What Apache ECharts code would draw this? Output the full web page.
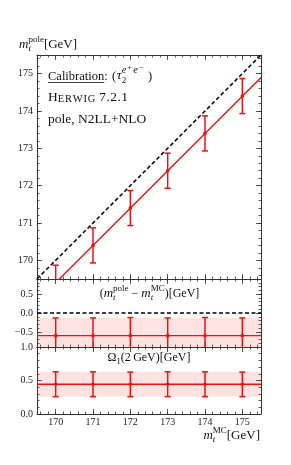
<!DOCTYPE html>
<html><head><meta charset="utf-8">
<script src="https://cdn.jsdelivr.net/npm/echarts@6/dist/echarts.min.js"></script>
<style>html,body{margin:0;padding:0;background:#fff}#c{width:291px;height:465px}</style>
</head><body><div id="c"></div>
<script>
// ---- data ----
const mcMass   = [170, 171, 172, 173, 174, 175];
const poleMass = [169.4, 170.4, 171.4, 172.4, 173.4, 174.4];
const poleErr  = [0.47, 0.47, 0.47, 0.47, 0.47, 0.47];
const diffVal  = [-0.6, -0.6, -0.6, -0.6, -0.6, -0.6];
const diffErr  = [0.47, 0.47, 0.48, 0.47, 0.48, 0.47];
const omegaVal = [0.445, 0.445, 0.443, 0.445, 0.445, 0.443];
const omegaErr = [0.185, 0.185, 0.183, 0.185, 0.185, 0.183];
const xRange    = [169.5, 175.5];
const fitPole   = [168.9, 174.9];
const diffFit   = -0.6;
const diffBand  = [-1.07, -0.13];
const omegaFit  = 0.445;
const omegaBand = [0.26, 0.63];
const xTicks     = [170, 171, 172, 173, 174, 175];
const poleTicks  = [170, 171, 172, 173, 174, 175];
const diffTicks  = [-0.5, 0, 0.5];
const omegaTicks = [0, 0.5, 1.0];
const poleRange  = [169.5, 175.5];
const diffRange  = [-0.9, 0.9];
const omegaRange = [0, 1];

const RED = '#f01010';
const FONT = '"Liberation Serif", "DejaVu Serif", serif';
const AX = '#333';

function minors(lo, hi, step) {
  const out = [];
  for (let k = Math.ceil(lo / step - 1e-9); k * step <= hi + 1e-9; k++) out.push(+(k * step).toFixed(4));
  return out;
}
const fmt = v => (v < 0 ? '\u2212' + Math.abs(v).toFixed(1) : (+v).toFixed(1));

const grids = [
  {left: 37, width: 224, top: 55, height: 224},
  {left: 37, width: 224, top: 279, height: 68},
  {left: 37, width: 224, top: 347, height: 67}
];
const yInfo = [
  {range: poleRange, ticks: poleTicks, step: 0.2, f: v => String(v)},
  {range: diffRange, ticks: diffTicks, step: 0.1, f: fmt},
  {range: omegaRange, ticks: omegaTicks, step: 0.1, f: fmt}
];
const xAxes = [], yAxes = [];
const xMajorIdx = [], yMajorIdx = [];
function axis(gi, pos, range, vals, len, line, label, f) {
  return {
    type: 'value', gridIndex: gi, position: pos, min: range[0], max: range[1],
    axisLine: {show: line, onZero: false, lineStyle: {color: AX, width: 1}},
    axisTick: {show: true, inside: true, length: len, customValues: vals, lineStyle: {color: AX, width: 0.8}},
    axisLabel: {show: label, customValues: vals, margin: pos === 'bottom' ? 3 : 4,
      fontFamily: FONT, fontSize: 10, color: '#222', formatter: f || (v => String(v))},
    splitLine: {show: false}, minorTick: {show: false}
  };
}
grids.forEach((g, gi) => {
  xMajorIdx.push(xAxes.length);
  xAxes.push(axis(gi, 'bottom', xRange, xTicks, 5, true, gi === 2, v => String(v)));
  xAxes.push(axis(gi, 'bottom', xRange, minors(xRange[0], xRange[1], 0.2), 2.5, false, false));
  xAxes.push(axis(gi, 'top', xRange, xTicks, 5, true, false));
  xAxes.push(axis(gi, 'top', xRange, minors(xRange[0], xRange[1], 0.2), 2.5, false, false));
  const yi = yInfo[gi];
  yMajorIdx.push(yAxes.length);
  yAxes.push(axis(gi, 'left', yi.range, yi.ticks, 5, true, true, yi.f));
  yAxes.push(axis(gi, 'left', yi.range, minors(yi.range[0], yi.range[1], yi.step), 2.5, false, false));
  yAxes.push(axis(gi, 'right', yi.range, yi.ticks, 5, true, false));
  yAxes.push(axis(gi, 'right', yi.range, minors(yi.range[0], yi.range[1], yi.step), 2.5, false, false));
});

function errRender(params, api) {
  const x = api.value(0), y = api.value(1), e = api.value(2);
  const c = api.coord([x, y]), t = api.coord([x, y + e]), b = api.coord([x, y - e]);
  const cap = 3, st = {stroke: RED, lineWidth: 1.5};
  return {type: 'group', children: [
    {type: 'line', shape: {x1: c[0], y1: t[1], x2: c[0], y2: b[1]}, style: st},
    {type: 'line', shape: {x1: c[0] - cap, y1: t[1], x2: c[0] + cap, y2: t[1]}, style: st},
    {type: 'line', shape: {x1: c[0] - cap, y1: b[1], x2: c[0] + cap, y2: b[1]}, style: st},
    {type: 'circle', shape: {cx: c[0], cy: c[1], r: 1.8}, style: {fill: RED}}
  ]};
}
function bandRender(params, api) {
  const p0 = api.coord([api.value(0), api.value(1)]);
  const p1 = api.coord([api.value(2), api.value(3)]);
  return {type: 'rect', shape: {x: p0[0], y: p1[1], width: p1[0] - p0[0], height: p0[1] - p1[1]},
    style: {fill: 'rgba(255,60,60,0.15)'}};
}
function ax(gi) { return {xAxisIndex: xMajorIdx[gi], yAxisIndex: yMajorIdx[gi]}; }
const lineBase = {type: 'line', symbol: 'none', silent: true, animation: false, clip: true};

const series = [
  Object.assign({}, lineBase, ax(0), {data: xRange.map(v => [v, v]), lineStyle: {color: '#000', width: 1.5, type: [4, 2.5]}, z: 3}),
  Object.assign({}, lineBase, ax(0), {data: xRange.map((v, i) => [v, fitPole[i]]), lineStyle: {color: RED, width: 1.4}, z: 3}),
  Object.assign({type: 'custom', renderItem: errRender, clip: true, animation: false, z: 4}, ax(0),
    {data: mcMass.map((m, i) => [m, poleMass[i], poleErr[i]])}),

  Object.assign({type: 'custom', renderItem: bandRender, clip: true, animation: false, z: 1}, ax(1),
    {data: [[xRange[0], diffBand[0], xRange[1], diffBand[1]]]}),
  Object.assign({}, lineBase, ax(1), {data: xRange.map(v => [v, 0]), lineStyle: {color: '#000', width: 1.5, type: [4, 2.5]}, z: 3}),
  Object.assign({}, lineBase, ax(1), {data: xRange.map(v => [v, diffFit]), lineStyle: {color: RED, width: 1.4}, z: 3}),
  Object.assign({type: 'custom', renderItem: errRender, clip: true, animation: false, z: 4}, ax(1),
    {data: mcMass.map((m, i) => [m, diffVal[i], diffErr[i]])}),

  Object.assign({type: 'custom', renderItem: bandRender, clip: true, animation: false, z: 1}, ax(2),
    {data: [[xRange[0], omegaBand[0], xRange[1], omegaBand[1]]]}),
  Object.assign({}, lineBase, ax(2), {data: xRange.map(v => [v, omegaFit]), lineStyle: {color: RED, width: 1.4}, z: 3}),
  Object.assign({type: 'custom', renderItem: errRender, clip: true, animation: false, z: 4}, ax(2),
    {data: mcMass.map((m, i) => [m, omegaVal[i], omegaErr[i]])})
];

// ---- math-like text via positioned segments ----
const mctx = document.createElement('canvas').getContext('2d');
function segW(s) { mctx.font = (s.i ? 'italic ' : '') + s.s + 'px ' + FONT; return mctx.measureText(s.t).width + (s.ls || 0) * s.t.length; }
function mathText(segs, x, base, anchor) {
  const items = []; let cx = 0;
  segs.forEach(s => {
    if (s.stack) {
      let w = 0;
      s.stack.forEach(sub => {
        let sx = cx;
        sub.forEach(p => { items.push({p, x: sx}); sx += segW(p); });
        w = Math.max(w, sx - cx);
      });
      cx += w;
    } else { items.push({p: s, x: cx}); cx += segW(s); }
  });
  const off = anchor === 'center' ? -cx / 2 : anchor === 'right' ? -cx : 0;
  const out = [];
  items.forEach(it => {
    const p = it.p;
    const chars = p.ls ? p.t.split('') : [p.t];
    let px = x + off + it.x;
    chars.forEach(ch => {
      out.push({
        type: 'text', silent: true,
        style: {text: ch, x: px, y: base + (p.dy || 0) - p.s * 0.3,
          font: (p.i ? 'italic ' : '') + p.s + 'px ' + FONT, fill: '#111', verticalAlign: 'middle', align: 'left'}
      });
      if (p.ls) px += segW({t: ch, s: p.s, i: p.i}) + p.ls;
    });
  });
  return out;
}
const S = 13, s2 = 9;
const mtSub = (sup) => [{t: 'm', s: S, i: true}, {stack: [[{t: 't', s: s2, i: true, dy: 3}], [{t: sup, s: s2, dy: -6}]]}];
const graphics = [].concat(
  mathText(mtSub('pole').concat([{t: '[GeV]', s: S}]), 19, 48, 'left'),
  mathText([{t: 'Calibration', s: 12.5}, {t: ': (', s: 12.5, ls: 0.6}, {t: '\u03c4', s: 13.5, i: true},
    {stack: [[{t: '2', s: 9, dy: 3}], [{t: 'e', s: 10.5, i: true, dy: -7, ls: 1}, {t: '+', s: 8, dy: -10, ls: 1.5}, {t: 'e', s: 10.5, i: true, dy: -7, ls: 1}, {t: '\u2212', s: 8, dy: -10, ls: 1.5}]]},
    {t: ' )', s: 12.5}], 48, 80, 'left'),
  mathText([{t: 'H', s: 13.5}, {t: 'ERWIG', s: 10.5, ls: 0.8}, {t: ' 7.2.1', s: 13.5, ls: 0.4}], 48, 102, 'left'),
  mathText([{t: 'pole, N2LL+NLO', s: 13.5}], 48, 124, 'left'),
  mathText([{t: '(', s: 12}].concat(mtSub('pole'), [{t: ' \u2212 ', s: 12}], mtSub('MC'), [{t: ')[GeV]', s: 12}]), 149.5, 297, 'center'),
  mathText([{t: '\u03a9', s: 12}, {t: '1', s: 8.5, dy: 3}, {t: '(2\u2009GeV)[GeV]', s: 12}], 149, 361, 'center'),
  mathText(mtSub('MC').concat([{t: '[GeV]', s: S}]), 260, 439, 'right'),
  [{type: 'line', silent: true, shape: {x1: 48, y1: 82.5, x2: 48 + segW({t: 'Calibration', s: 12.5}), y2: 82.5}, style: {stroke: '#111', lineWidth: 0.8}}]
);

const chart = echarts.init(document.getElementById('c'), null, {renderer: 'canvas'});
chart.setOption({
  animation: false,
  grid: grids, xAxis: xAxes, yAxis: yAxes, series: series, graphic: graphics
});
</script></body></html>
